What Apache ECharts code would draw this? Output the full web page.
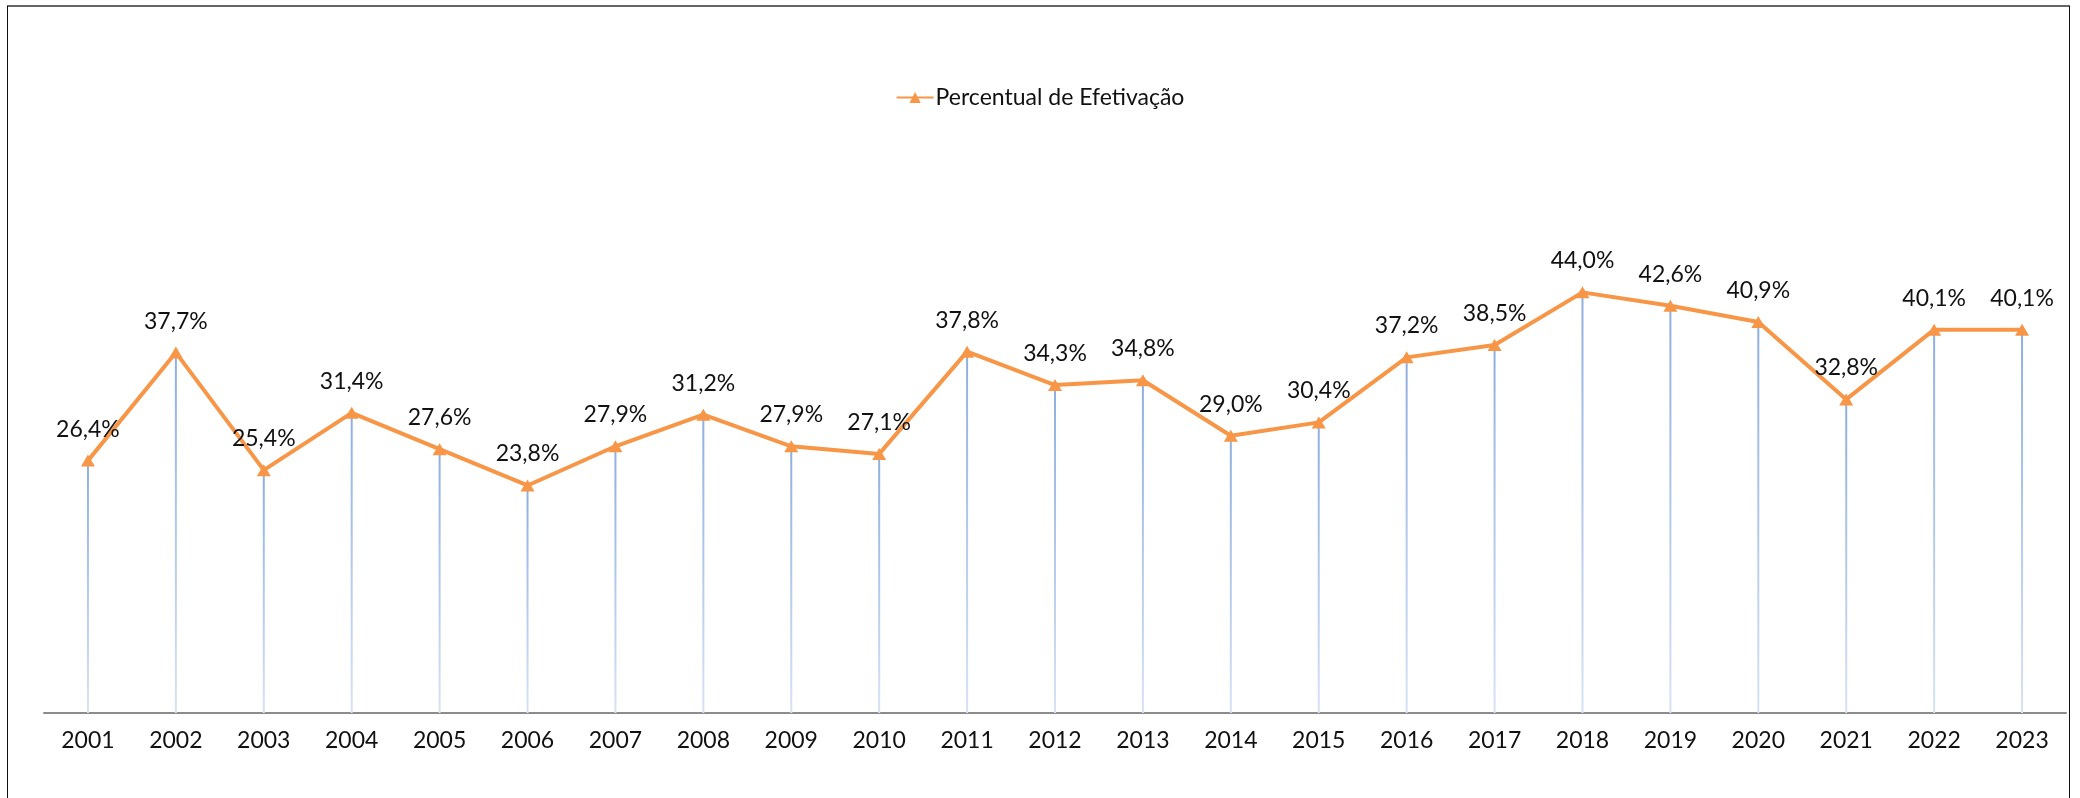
<!DOCTYPE html>
<html>
<head>
<meta charset="utf-8">
<script src="https://cdn.jsdelivr.net/npm/echarts@6/dist/echarts.min.js"></script>
<style>
  html, body { margin: 0; padding: 0; background: #fff; }
  #main { width: 2080px; height: 798px; }
</style>
</head>
<body>
<div id="main"></div>
<script>
// anos
var years = ['2001', '2002', '2003', '2004', '2005', '2006', '2007', '2008', '2009', '2010', '2011', '2012',
    '2013', '2014', '2015', '2016', '2017', '2018', '2019', '2020', '2021', '2022', '2023'];
// percentual de efetivação (%)
var percentual = [26.4, 37.7, 25.4, 31.4, 27.6, 23.8, 27.9, 31.2, 27.9, 27.1, 37.8, 34.3,
    34.8, 29.0, 30.4, 37.2, 38.5, 44.0, 42.6, 40.9, 32.8, 40.1, 40.1];

var fonte = 'Lato, "Noto Sans", sans-serif';
var laranja = '#f79646';

var myChart = echarts.init(document.getElementById('main'));
var option = {
    backgroundColor: '#fff',
    animation: false,
    textStyle: { fontFamily: fonte },
    //moldura
    graphic: [
        { type: 'line', shape: { x1: 7, y1: 6, x2: 2070, y2: 6 }, style: { stroke: '#666', lineWidth: 2 } },
        { type: 'line', shape: { x1: 7.5, y1: 6, x2: 7.5, y2: 798 }, style: { stroke: '#111', lineWidth: 1 } },
        { type: 'line', shape: { x1: 2069.5, y1: 6, x2: 2069.5, y2: 798 }, style: { stroke: '#111', lineWidth: 1 } }
    ],
    legend: {
        data: ['Percentual de Efetivação'],
        top: 81,
        left: 'center',
        itemWidth: 37,
        itemHeight: 14,
        itemGap: 4,
        textStyle: { fontSize: 23, color: '#111', fontFamily: fonte, padding: [0, 0, 0, -3] }
    },
    grid: { left: 44, right: 14, top: 235, bottom: 85 },
    xAxis: {
        type: 'category',
        data: years,
        boundaryGap: true,
        axisLine: { lineStyle: { color: '#8c8c8c', width: 2 } },
        axisTick: { show: false },
        axisLabel: { fontSize: 23, color: '#111', margin: 16, fontFamily: fonte }
    },
    yAxis: {
        type: 'value',
        min: 0,
        max: 50,
        show: false,
        splitLine: { show: false }
    },
    series: [
        {
            //linhas de projeção
            name: 'linhas',
            type: 'bar',
            data: percentual,
            barWidth: 2,
            silent: true,
            itemStyle: {
                color: new echarts.graphic.LinearGradient(0, 0, 0, 1, [
                    { offset: 0, color: '#8eaedf' },
                    { offset: 1, color: '#d8e2f3' }
                ])
            }
        },
        {
            name: 'Percentual de Efetivação',
            type: 'line',
            data: percentual,
            symbol: 'triangle',
            symbolSize: [14, 12],
            lineStyle: { color: laranja, width: 4 },
            itemStyle: { color: laranja },
            label: {
                show: true,
                position: 'top',
                distance: 14,
                fontSize: 23,
                color: '#111',
                fontFamily: fonte,
                formatter: function (p) {
                    return p.value.toFixed(1).replace('.', ',') + '%';
                }
            },
            z: 3
        }
    ]
};
myChart.setOption(option);
</script>
</body>
</html>
